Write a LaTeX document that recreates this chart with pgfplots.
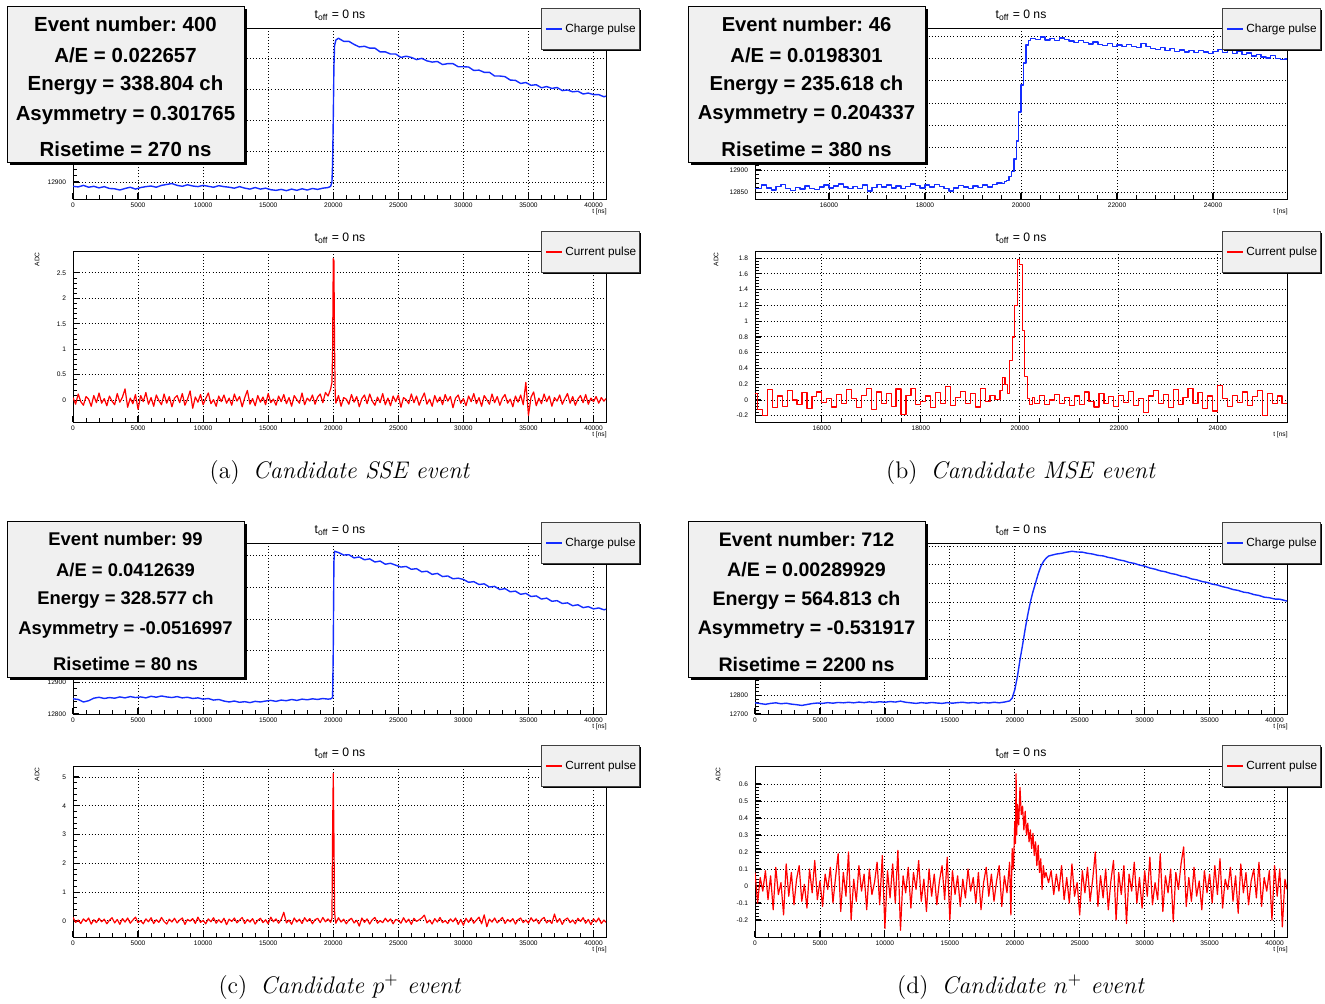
\documentclass[border=0pt]{standalone}
\usepackage{fontspec}
\usepackage{pgfplots}
\pgfplotsset{compat=1.18}
\newfontfamily\rootfont{Liberation Sans}
\definecolor{rootblue}{RGB}{20,45,255}
\definecolor{rootred}{RGB}{255,0,0}
\definecolor{panegray}{RGB}{240,240,240}
\newcommand{\tickfont}{\rootfont\fontsize{3.3}{4}\selectfont}
\frenchspacing

\pgfplotsset{
  rootframe/.style={
    scale only axis, width=266.5pt, height=85.5pt, anchor=south west,
    axis line style={black, line width=0.5pt},
    tick align=inside, xtick pos=left, ytick pos=left,
    major tick length=3pt, minor tick length=1.8pt,
    major tick style={black, line width=0.6pt},
    minor tick style={black, line width=0.45pt},
    grid=major,
    major grid style={black, line width=0.45pt, dash pattern=on 0.45pt off 1.1pt},
    scaled ticks=false,
    tick label style={font=\tickfont},
    xticklabel style={yshift=1.4pt},
    /pgf/number format/1000 sep={},
    /pgf/number format/assume math mode=true,
    minor x tick num=4, minor y tick num=4,
  },
  fullrange/.style={xmin=0, xmax=40960, xtick={0,5000,10000,15000,20000,25000,30000,35000,40000}},
  zoomrange/.style={xtick={16000,18000,20000,22000,24000}},
  charge/.style={rootblue, line width=0.7pt, line join=round},
  current/.style={rootred, line width=0.6pt, line join=round},
}

\begin{document}
\begin{tikzpicture}
\useasboundingbox (0,0) rectangle (662.5pt,-501.5pt);

% ---------------- (a) charge
\begin{axis}[rootframe, fullrange, at={(36.5pt,-99.5pt)}, ymin=12845, ymax=13397,
  ytick={12900,13000,13100,13200,13300}, yticklabels={12900,,,,}]
\addplot[charge] coordinates {
(0,12886)(400,12884)(800,12889)(1200,12883)(1600,12886)(2000,12881)(2400,12885)(2800,12879)(3200,12878)(3600,12874)
(4000,12879)(4400,12883)(4800,12877)(5200,12882)(5600,12885)(6000,12887)(6400,12883)(6800,12889)(7200,12892)(7600,12895)
(8000,12889)(8400,12886)(8800,12891)(9200,12887)(9600,12885)(10000,12889)(10400,12886)(10800,12883)(11200,12888)(11600,12885)
(12000,12883)(12400,12880)(12800,12885)(13200,12880)(13600,12877)(14000,12882)(14400,12877)(14800,12880)(15200,12875)(15600,12873)
(16000,12876)(16400,12872)(16800,12877)(17200,12873)(17600,12878)(18000,12874)(18400,12879)(18800,12876)(19200,12880)(19600,12882)
(19800,12886)(19900,12900)(19950,12960)(20000,13100)(20050,13270)(20100,13340)(20200,13358)(20400,13364)
(20800,13354)(21200,13354)(21600,13344)(22000,13336)(22400,13338)(22800,13332)(23200,13332)(23600,13320)(24000,13320)(24400,13313)
(24800,13313)(25200,13302)(25600,13306)(26000,13302)(26400,13295)(26800,13299)(27200,13291)(27600,13287)(28000,13289)(28400,13279)
(28800,13282)(29200,13282)(29600,13272)(30000,13272)(30400,13271)(30800,13260)(31200,13261)(31600,13254)(32000,13254)(32400,13242)
(32800,13242)(33200,13240)(33600,13229)(34000,13228)(34400,13218)(34800,13221)(35200,13212)(35600,13214)(36000,13204)(36400,13208)
(36800,13202)(37200,13205)(37600,13195)(38000,13197)(38400,13191)(38800,13193)(39200,13184)(39600,13187)(40000,13182)(40400,13182)
(40800,13175)(40960,13177)};
\end{axis}

% ---------------- (a) current
\begin{axis}[rootframe, fullrange, at={(36.5pt,-211pt)}, ymin=-0.43, ymax=2.93,
  ytick={0,0.5,1,1.5,2,2.5}]
\addplot[current] coordinates {
(0,0.05)(200,-0.08)(400,0.12)(600,-0.03)(800,-0.10)(1000,0.07)(1200,0.02)(1400,-0.12)(1600,0.09)(1800,-0.05)
(2000,0.14)(2200,-0.06)(2400,0.03)(2600,-0.11)(2800,0.08)(3000,-0.02)(3200,-0.09)(3400,0.13)(3600,-0.04)(3800,0.06)
(4000,0.22)(4200,-0.14)(4400,0.04)(4600,-0.07)(4800,0.11)(5000,-0.18)(5200,0.09)(5400,-0.03)(5600,0.15)(5800,-0.08)
(6000,0.05)(6200,-0.12)(6400,0.10)(6600,-0.01)(6800,-0.09)(7000,0.12)(7200,-0.06)(7400,0.07)(7600,-0.13)(7800,0.04)
(8000,0.09)(8200,-0.05)(8400,0.13)(8600,-0.10)(8800,0.02)(9000,0.18)(9200,-0.16)(9400,0.06)(9600,-0.04)(9800,0.11)
(10000,-0.09)(10200,0.03)(10400,0.14)(10600,-0.07)(10800,0.01)(11000,-0.12)(11200,0.08)(11400,-0.03)(11600,0.10)(11800,-0.06)
(12000,0.04)(12200,-0.10)(12400,0.12)(12600,-0.02)(12800,0.07)(13000,-0.13)(13200,0.05)(13400,0.19)(13600,-0.08)(13800,0.03)
(14000,-0.11)(14200,0.09)(14400,-0.04)(14600,0.06)(14800,-0.09)(15000,0.13)(15200,-0.05)(15400,0.02)(15600,-0.10)(15800,0.08)
(16000,-0.03)(16200,0.11)(16400,-0.07)(16600,0.05)(16800,-0.12)(17000,0.09)(17200,0.01)(17400,-0.06)(17600,0.14)(17800,-0.09)
(18000,0.04)(18200,-0.02)(18400,0.10)(18600,-0.08)(18800,0.06)(19000,0.12)(19200,-0.05)(19400,0.15)(19600,0.08)(19800,0.22)
(19900,0.35)(19950,0.95)(20000,2.78)(20050,2.74)(20100,1.05)(20150,0.12)
(20200,-0.06)(20400,0.09)(20600,-0.12)(20800,0.05)(21000,0.02)(21200,-0.08)(21400,0.11)(21600,-0.04)(21800,0.07)(22000,-0.13)
(22200,0.03)(22400,0.10)(22600,-0.07)(22800,0.12)(23000,-0.02)(23200,-0.10)(23400,0.06)(23600,-0.05)(23800,0.13)(24000,-0.09)
(24200,0.04)(24400,-0.11)(24600,0.08)(24800,-0.03)(25000,0.10)(25200,-0.14)(25400,0.05)(25600,0.01)(25800,-0.07)(26000,0.12)
(26200,-0.05)(26400,0.08)(26600,-0.10)(26800,0.03)(27000,0.14)(27200,-0.08)(27400,0.02)(27600,-0.12)(27800,0.09)(28000,-0.04)
(28200,0.06)(28400,-0.09)(28600,0.11)(28800,-0.02)(29000,0.07)(29200,-0.15)(29400,0.04)(29600,0.10)(29800,-0.06)(30000,0.03)
(30200,-0.11)(30400,0.08)(30600,-0.03)(30800,0.13)(31000,-0.07)(31200,0.05)(31400,-0.12)(31600,0.09)(31800,0.01)(32000,-0.08)
(32200,0.12)(32400,-0.05)(32600,0.07)(32800,-0.10)(33000,0.04)(33200,0.11)(33400,-0.06)(33600,0.02)(33800,-0.13)(34000,0.08)
(34200,-0.04)(34400,0.10)(34600,-0.09)(34800,0.35)(35000,-0.30)(35200,0.06)(35400,0.16)(35600,-0.11)(35800,0.04)(36000,-0.07)
(36200,0.12)(36400,-0.03)(36600,0.08)(36800,-0.12)(37000,0.05)(37200,-0.02)(37400,0.10)(37600,-0.08)(37800,0.03)(38000,0.13)
(38200,-0.06)(38400,0.07)(38600,-0.10)(38800,0.02)(39000,0.09)(39200,-0.05)(39400,0.11)(39600,-0.08)(39800,0.04)(40000,-0.03)
(40200,0.07)(40400,-0.06)(40600,0.05)(40800,-0.02)(40960,0.03)};
\end{axis}

% ---------------- (b) charge
\begin{axis}[rootframe, zoomrange, width=266pt, at={(377.5pt,-99.5pt)}, xmin=14460, xmax=25540,
  ymin=12835, ymax=13218, ytick={12850,12900,12950,13000,13050,13100,13150,13200},
  yticklabels={12850,12900,,,,,,}]
\addplot[charge, const plot] coordinates {
(14460,12858)(14600,12866)(14700,12860)(14800,12855)(14900,12863)(15000,12868)(15100,12859)(15200,12854)(15300,12861)(15400,12857)
(15500,12864)(15600,12859)(15700,12856)(15800,12862)(15900,12866)(16000,12860)(16100,12864)(16200,12869)(16300,12862)(16400,12858)
(16500,12863)(16600,12859)(16700,12866)(16800,12853)(16900,12861)(17000,12867)(17100,12862)(17200,12866)(17300,12860)(17400,12864)
(17500,12858)(17600,12863)(17700,12869)(17800,12865)(17900,12860)(18000,12866)(18100,12862)(18200,12868)(18300,12863)(18400,12858)
(18500,12853)(18600,12860)(18700,12865)(18800,12862)(18900,12858)(19000,12864)(19100,12861)(19200,12866)(19300,12862)(19400,12868)
(19500,12871)(19600,12870)(19650,12874)(19700,12876)(19750,12885)(19800,12896)(19850,12925)(19900,12965)(19950,13030)(20000,13090)
(20050,13140)(20100,13180)(20150,13190)(20200,13195)(20300,13192)(20400,13198)(20500,13191)(20600,13194)(20700,13190)(20800,13196)
(20900,13192)(21000,13189)(21100,13186)(21200,13190)(21300,13185)(21400,13182)(21500,13187)(21600,13181)(21700,13179)(21800,13183)
(21900,13177)(22000,13180)(22100,13176)(22200,13181)(22300,13177)(22400,13174)(22500,13183)(22600,13176)(22700,13172)(22800,13170)
(22900,13175)(23000,13168)(23100,13172)(23200,13165)(23300,13169)(23400,13164)(23500,13167)(23600,13163)(23700,13168)(23800,13164)
(23900,13161)(24000,13166)(24100,13170)(24200,13163)(24300,13167)(24400,13161)(24500,13165)(24600,13159)(24700,13162)(24800,13155)
(24900,13159)(25000,13153)(25100,13151)(25200,13156)(25300,13150)(25400,13147)(25500,13149)(25540,13149)};
\end{axis}

% ---------------- (b) current
\begin{axis}[rootframe, zoomrange, width=266pt, at={(377.5pt,-211pt)}, xmin=14650, xmax=25400,
  ymin=-0.28, ymax=1.89, ytick={-0.2,0,0.2,0.4,0.6,0.8,1,1.2,1.4,1.6,1.8}]
\addplot[current, const plot] coordinates {
(14650,0.08)(14700,-0.12)(14800,-0.20)(14900,0.13)(15000,-0.10)(15100,0.05)(15200,-0.08)(15300,0.12)(15400,0.00)(15500,-0.06)
(15600,0.09)(15700,-0.11)(15800,0.04)(15900,0.10)(16000,-0.03)(16100,0.02)(16200,-0.09)(16300,0.07)(16400,-0.05)(16500,0.13)
(16600,0.02)(16700,-0.10)(16800,0.06)(16900,0.15)(17000,-0.12)(17100,0.10)(17200,-0.04)(17300,0.08)(17400,-0.08)(17500,0.14)
(17600,-0.18)(17700,0.06)(17800,0.15)(17900,-0.06)(18000,-0.02)(18100,0.05)(18200,-0.10)(18300,0.09)(18400,-0.04)(18500,0.17)
(18600,-0.07)(18700,0.03)(18800,0.11)(18900,-0.05)(19000,0.08)(19100,-0.09)(19200,0.15)(19300,-0.02)(19400,0.06)(19500,0.01)
(19600,0.12)(19650,0.28)(19700,0.20)(19750,0.08)(19800,0.50)(19850,0.80)(19900,1.20)(19950,1.78)(20000,1.72)(20050,0.88)
(20100,0.30)(20150,0.02)(20200,-0.06)(20250,0.03)(20300,-0.05)(20400,0.06)(20500,-0.06)(20600,0.00)(20700,0.07)(20800,-0.04)
(20900,0.03)(21000,-0.07)(21100,0.05)(21200,-0.06)(21300,0.10)(21400,-0.02)(21500,-0.09)(21600,0.08)(21700,-0.05)(21800,0.04)
(21900,-0.08)(22000,0.06)(22100,-0.03)(22200,0.11)(22300,-0.07)(22400,0.02)(22500,-0.16)(22600,0.05)(22700,0.12)(22800,-0.04)
(22900,0.07)(23000,-0.10)(23100,0.13)(23200,-0.06)(23300,0.03)(23400,0.15)(23500,-0.05)(23600,0.09)(23700,-0.11)(23800,0.05)
(23900,-0.14)(24000,0.18)(24100,0.02)(24200,-0.08)(24300,0.06)(24400,-0.03)(24500,0.10)(24600,-0.07)(24700,0.04)(24800,0.12)
(24900,-0.20)(25000,0.08)(25100,-0.04)(25200,0.05)(25300,-0.05)(25400,-0.05)};
\end{axis}

% ---------------- (c) charge
\begin{axis}[rootframe, fullrange, at={(36.5pt,-357pt)}, ymin=12800, ymax=13340,
  ytick={12800,12900,13000,13100,13200,13300}, yticklabels={12800,12900,,,,}]
\addplot[charge] coordinates {
(0,12848)(400,12846)(800,12838)(1200,12842)(1600,12850)(2000,12853)(2400,12849)(2800,12852)(3200,12850)(3600,12854)
(4000,12851)(4400,12855)(4800,12852)(5200,12854)(5600,12851)(6000,12856)(6400,12853)(6800,12857)(7200,12854)(7600,12852)
(8000,12855)(8400,12851)(8800,12853)(9200,12849)(9600,12851)(10000,12847)(10400,12849)(10800,12844)(11200,12846)(11600,12841)
(12000,12838)(12400,12841)(12800,12837)(13200,12839)(13600,12836)(14000,12840)(14400,12838)(14800,12841)(15200,12843)(15600,12840)
(16000,12844)(16400,12842)(16800,12846)(17200,12843)(17600,12847)(18000,12845)(18400,12848)(18800,12846)(19200,12849)(19600,12847)
(19800,12848)(19950,12852)(20000,13000)(20050,13280)(20100,13314)(20400,13310)(20800,13302)(21200,13303)(21600,13293)(22000,13296)
(22400,13287)(22800,13290)(23200,13280)(23600,13283)(24000,13273)(24400,13276)(24800,13270)(25200,13264)(25600,13266)(26000,13257)
(26400,13259)(26800,13249)(27200,13251)(27600,13241)(28000,13244)(28400,13234)(28800,13236)(29200,13227)(29600,13229)(30000,13225)
(30400,13216)(30800,13218)(31200,13209)(31600,13211)(32000,13201)(32400,13203)(32800,13193)(33200,13196)(33600,13186)(34000,13188)
(34400,13178)(34800,13181)(35200,13171)(35600,13173)(36000,13163)(36400,13166)(36800,13156)(37200,13158)(37600,13149)(38000,13151)
(38400,13142)(38800,13145)(39200,13136)(39600,13139)(40000,13132)(40400,13135)(40800,13129)(40960,13131)};
\end{axis}

% ---------------- (c) current
\begin{axis}[rootframe, fullrange, at={(36.5pt,-468.5pt)}, ymin=-0.56, ymax=5.38,
  ytick={0,1,2,3,4,5}]
\addplot[current] coordinates {
(0,0.12)(200,-0.05)(400,0.03)(600,-0.09)(800,0.07)(1000,-0.02)(1200,0.10)(1400,-0.11)(1600,0.04)(1800,-0.06)
(2000,0.09)(2200,-0.03)(2400,0.06)(2600,-0.10)(2800,0.02)(3000,0.11)(3200,-0.07)(3400,0.05)(3600,-0.12)(3800,0.08)
(4000,-0.04)(4200,0.10)(4400,-0.08)(4600,0.03)(4800,0.13)(5000,-0.06)(5200,0.01)(5400,-0.10)(5600,0.07)(5800,-0.03)
(6000,0.11)(6200,-0.09)(6400,0.04)(6600,-0.05)(6800,0.12)(7000,-0.02)(7200,-0.11)(7400,0.06)(7600,-0.04)(7800,0.09)
(8000,-0.07)(8200,0.03)(8400,0.10)(8600,-0.12)(8800,0.05)(9000,-0.01)(9200,0.08)(9400,-0.09)(9600,0.13)(9800,-0.05)
(10000,0.02)(10200,-0.10)(10400,0.07)(10600,-0.03)(10800,0.11)(11000,-0.08)(11200,0.04)(11400,-0.06)(11600,0.09)(11800,-0.13)
(12000,0.06)(12200,-0.02)(12400,0.10)(12600,-0.07)(12800,0.03)(13000,0.12)(13200,-0.09)(13400,0.05)(13600,-0.04)(13800,0.08)
(14000,-0.11)(14200,0.02)(14400,0.09)(14600,-0.06)(14800,0.04)(15000,-0.10)(15200,0.13)(15400,-0.03)(15600,0.07)(15800,-0.08)
(16000,0.05)(16200,0.30)(16400,-0.07)(16600,0.03)(16800,-0.12)(17000,0.10)(17200,-0.04)(17400,0.06)(17600,-0.09)(17800,0.11)
(18000,-0.02)(18200,0.08)(18400,-0.10)(18600,0.04)(18800,0.09)(19000,-0.06)(19200,0.12)(19400,-0.03)(19600,0.07)(19800,-0.05)
(19900,0.10)(19950,3.10)(20000,5.12)(20050,3.00)(20100,0.35)(20150,0.05)
(20200,-0.08)(20400,0.11)(20600,-0.04)(20800,0.06)(21000,-0.10)(21200,0.03)(21400,0.09)(21600,-0.07)(21800,0.02)(22000,-0.18)
(22200,0.10)(22400,-0.05)(22600,0.07)(22800,-0.11)(23000,0.04)(23200,0.12)(23400,-0.08)(23600,0.01)(23800,-0.06)(24000,0.09)
(24200,-0.03)(24400,0.07)(24600,-0.10)(24800,0.05)(25000,0.02)(25200,-0.08)(25400,0.11)(25600,-0.05)(25800,0.06)(26000,-0.12)
(26200,0.09)(26400,-0.02)(26600,0.04)(26800,0.10)(27000,0.20)(27200,-0.07)(27400,0.03)(27600,-0.11)(27800,0.08)(28000,-0.04)
(28200,0.12)(28400,-0.06)(28600,0.01)(28800,-0.09)(29000,0.07)(29200,-0.03)(29400,0.10)(29600,-0.12)(29800,0.05)(30000,-0.15)
(30200,0.09)(30400,-0.05)(30600,0.11)(30800,-0.08)(31000,0.03)(31200,0.13)(31400,-0.10)(31600,0.21)(31800,-0.20)(32000,0.06)
(32200,-0.04)(32400,0.10)(32600,-0.07)(32800,0.02)(33000,0.12)(33200,-0.09)(33400,0.05)(33600,-0.03)(33800,0.08)(34000,-0.11)
(34200,0.04)(34400,0.10)(34600,-0.06)(34800,0.03)(35000,-0.08)(35200,0.11)(35400,-0.02)(35600,0.07)(35800,-0.10)(36000,0.05)
(36200,0.12)(36400,-0.07)(36600,0.02)(36800,-0.09)(37000,0.24)(37200,-0.05)(37400,0.08)(37600,-0.12)(37800,0.04)(38000,0.10)
(38200,-0.06)(38400,0.03)(38600,-0.10)(38800,0.09)(39000,-0.02)(39200,0.11)(39400,-0.08)(39600,0.05)(39800,-0.13)(40000,0.07)
(40200,-0.04)(40400,0.10)(40600,-0.09)(40800,0.03)(40960,-0.05)};
\end{axis}

% ---------------- (d) charge
\begin{axis}[rootframe, fullrange, width=266pt, at={(377.5pt,-357pt)}, ymin=12700, ymax=13616,
  ytick={12700,12800,12900,13000,13100,13200,13300,13400,13500,13600},
  yticklabels={12700,12800,,,,,,,,}]
\addplot[charge] coordinates {
(0,12760)(400,12756)(800,12752)(1200,12757)(1600,12760)(2000,12755)(2400,12758)(2800,12753)(3200,12750)(3600,12746)
(4000,12751)(4400,12756)(4800,12759)(5200,12757)(5600,12761)(6000,12758)(6400,12762)(6800,12760)(7200,12763)(7600,12760)
(8000,12764)(8400,12761)(8800,12765)(9200,12762)(9600,12766)(10000,12763)(10400,12767)(10800,12764)(11200,12769)(11600,12763)
(12000,12760)(12400,12757)(12800,12761)(13200,12758)(13600,12762)(14000,12759)(14400,12757)(14800,12761)(15200,12758)(15600,12761)
(16000,12763)(16400,12759)(16800,12762)(17200,12758)(17600,12762)(18000,12759)(18400,12763)(18800,12760)(19200,12764)(19600,12770)
(19800,12785)(20000,12830)(20200,12900)(20400,12990)(20600,13070)(20800,13155)(21000,13232)(21200,13300)(21400,13355)(21600,13402)
(21800,13450)(22000,13490)(22200,13516)(22400,13534)(22600,13546)(22800,13550)(23200,13557)(23600,13561)(24000,13567)(24400,13572)
(24800,13568)(25200,13567)(25600,13561)(26000,13557)(26400,13550)(26800,13547)(27200,13539)(27600,13534)(28000,13526)(28400,13521)
(28800,13512)(29200,13507)(29600,13498)(30000,13492)(30400,13482)(30800,13476)(31200,13467)(31600,13462)(32000,13453)(32400,13448)
(32800,13439)(33200,13434)(33600,13424)(34000,13419)(34400,13410)(34800,13405)(35200,13396)(35600,13391)(36000,13382)(36400,13376)
(36800,13367)(37200,13362)(37600,13353)(38000,13349)(38400,13340)(38800,13335)(39200,13326)(39600,13323)(40000,13316)(40400,13315)
(40800,13308)(40960,13305)};
\end{axis}

% ---------------- (d) current
\begin{axis}[rootframe, fullrange, width=266pt, at={(377.5pt,-468.5pt)}, ymin=-0.3, ymax=0.706,
  ytick={-0.2,-0.1,0,0.1,0.2,0.3,0.4,0.5,0.6}]
\addplot[current] coordinates {
(0,0.08)(200,-0.10)(400,0.05)(600,-0.03)(800,0.09)(1000,-0.08)(1200,0.06)(1400,-0.14)(1600,0.11)(1800,-0.05)
(2000,0.02)(2200,-0.17)(2400,0.13)(2600,-0.06)(2800,0.08)(3000,-0.11)(3200,0.04)(3400,0.12)(3600,-0.09)(3800,0.01)
(4000,-0.13)(4200,0.10)(4400,-0.04)(4600,0.15)(4800,-0.08)(5000,0.03)(5200,-0.12)(5400,0.07)(5600,-0.02)(5800,0.11)
(6000,-0.10)(6200,0.05)(6400,0.19)(6600,-0.15)(6800,0.08)(7000,-0.06)(7200,0.20)(7400,-0.20)(7600,0.04)(7800,-0.09)
(8000,0.12)(8200,-0.03)(8400,0.07)(8600,-0.14)(8800,0.10)(9000,-0.05)(9200,0.02)(9400,0.14)(9600,-0.11)(9800,0.18)
(10000,-0.25)(10200,0.09)(10400,-0.07)(10600,0.13)(10800,-0.10)(11000,0.21)(11200,-0.26)(11400,0.06)(11600,-0.04)(11800,0.11)
(12000,-0.13)(12200,0.08)(12400,-0.02)(12600,0.15)(12800,-0.09)(13000,0.04)(13200,-0.15)(13400,0.10)(13600,-0.06)(13800,0.07)
(14000,-0.11)(14200,0.03)(14400,0.12)(14600,-0.08)(14800,0.17)(15000,-0.20)(15200,0.09)(15400,-0.05)(15600,0.06)(15800,-0.12)
(16000,0.04)(16200,-0.07)(16400,0.10)(16600,-0.03)(16800,0.05)(17000,-0.10)(17200,0.08)(17400,-0.14)(17600,0.02)(17800,0.11)
(18000,-0.06)(18200,0.07)(18400,-0.09)(18600,0.03)(18800,0.12)(19000,-0.12)(19200,0.06)(19400,-0.04)(19600,0.14)(19700,-0.17)
(19800,0.22)(19900,0.10)(20000,0.38)(20050,0.25)(20100,0.66)(20150,0.30)(20200,0.48)(20300,0.36)(20400,0.58)(20500,0.42)
(20600,0.47)(20700,0.33)(20800,0.44)(20900,0.30)(21000,0.37)(21100,0.26)(21200,0.33)(21300,0.22)(21400,0.31)(21500,0.18)
(21600,0.26)(21700,0.12)(21800,0.24)(21900,0.08)(22000,0.16)(22100,-0.02)(22200,0.12)(22300,0.05)(22400,0.08)(22600,0.02)
(22800,0.09)(23000,-0.05)(23200,0.07)(23400,-0.03)(23600,0.12)(23800,-0.08)(24000,0.05)(24200,-0.10)(24400,0.13)(24600,-0.06)
(24800,0.02)(25000,-0.17)(25200,0.09)(25400,-0.04)(25600,0.11)(25800,-0.09)(26000,0.04)(26200,0.20)(26400,-0.12)(26600,0.06)
(26800,-0.07)(27000,0.10)(27200,-0.14)(27400,0.03)(27600,0.15)(27800,-0.20)(28000,0.08)(28200,-0.05)(28400,0.12)(28600,-0.22)
(28800,0.07)(29000,-0.03)(29200,0.14)(29400,-0.10)(29600,0.05)(29800,-0.13)(30000,0.09)(30200,-0.06)(30400,0.17)(30600,-0.11)
(30800,0.02)(31000,-0.08)(31200,0.19)(31400,-0.15)(31600,0.06)(31800,-0.04)(32000,0.10)(32200,-0.21)(32400,0.08)(32600,-0.02)
(32800,0.13)(33000,0.23)(33200,-0.12)(33400,0.05)(33600,-0.09)(33800,0.11)(34000,-0.06)(34200,0.03)(34400,-0.14)(34600,0.09)
(34800,-0.04)(35000,0.07)(35200,-0.10)(35400,0.12)(35600,-0.05)(35800,0.16)(36000,-0.13)(36200,0.04)(36400,-0.02)(36600,0.11)
(36800,-0.09)(37000,0.06)(37200,-0.16)(37400,0.13)(37600,-0.04)(37800,0.08)(38000,-0.11)(38200,0.03)(38400,0.10)(38600,-0.07)
(38800,0.14)(39000,-0.12)(39200,0.05)(39400,-0.03)(39600,0.09)(39800,-0.20)(40000,0.12)(40200,-0.06)(40400,0.10)(40600,-0.24)
(40800,0.04)(40960,-0.02)};
\end{axis}

% ---------------- overlays, placed in image pixels
\begin{scope}[x=0.5pt, y=-0.5pt]
  % #1,#2 top-left corner, #3 font size, #4-#8 the five lines
  \newcommand{\InfoBox}[8]{%
    \fill[black] (#1+3,#2+3) rectangle (#1+240,#2+159);
    \filldraw[fill=panegray, draw=black, line width=0.4pt] (#1,#2) rectangle (#1+237,#2+156);
    \foreach \dy/\txt in {18/{#4}, 49/{#5}, 79/{#6}, 109/{#7}, 143/{#8}}
      \node[font=\rootfont\bfseries\fontsize{#3}{12}\selectfont] at (#1+118.5,#2+\dy) {\txt};
  }
  \newcommand{\LegBox}[4]{%
    \fill[black] (#1+2,#2+2) rectangle (#1+100,#2+43);
    \filldraw[fill=panegray, draw=black!75, line width=0.4pt] (#1,#2) rectangle (#1+98,#2+41);
    \draw[#3, line width=0.6pt] (#1+5,#2+21) -- (#1+21,#2+21);
    \node[anchor=west, inner sep=0pt, font=\rootfont\fontsize{5.9}{7}\selectfont] at (#1+24,#2+21) {#4};
  }
  \newcommand{\Title}[2]{%
    \node[font=\rootfont\fontsize{6.1}{7}\selectfont] at (#1,#2) {t\textsubscript{off} = 0 ns};
  }
  \newcommand{\TLab}[2]{%
    \node[anchor=east, inner sep=0pt, font=\tickfont] at (#1,#2) {t [ns]};
  }
  \newcommand{\ADC}[2]{%
    \node[rotate=90, anchor=east, inner sep=0pt, font=\tickfont] at (#1,#2) {ADC};
  }

  % titles
  \Title{340}{15} \Title{340}{238} \Title{1021}{15} \Title{1021}{238}
  \Title{340}{530} \Title{340}{753} \Title{1021}{530} \Title{1021}{753}
  % axis titles
  \TLab{607}{212} \TLab{607}{435} \TLab{1288}{212} \TLab{1288}{435}
  \TLab{607}{727} \TLab{607}{950} \TLab{1288}{727} \TLab{1288}{950}
  \ADC{37}{252} \ADC{716}{252} \ADC{37}{767} \ADC{718}{767}

  % legends
  \LegBox{541}{8}{rootblue}{Charge pulse}
  \LegBox{541}{231}{rootred}{Current pulse}
  \LegBox{1222}{8}{rootblue}{Charge pulse}
  \LegBox{1222}{231}{rootred}{Current pulse}
  \LegBox{541}{522}{rootblue}{Charge pulse}
  \LegBox{541}{745}{rootred}{Current pulse}
  \LegBox{1222}{522}{rootblue}{Charge pulse}
  \LegBox{1222}{745}{rootred}{Current pulse}

  % event information panes
  \InfoBox{7}{6}{10.2}{Event number: 400}{A/E = 0.022657}{Energy = 338.804 ch}{Asymmetry = 0.301765}{Risetime = 270 ns}
  \InfoBox{688}{6}{10.1}{Event number: 46}{A/E = 0.0198301}{Energy = 235.618 ch}{Asymmetry = 0.204337}{Risetime = 380 ns}
  \InfoBox{7}{521}{9.2}{Event number: 99}{A/E = 0.0412639}{Energy = 328.577 ch}{Asymmetry = -0.0516997}{Risetime = 80 ns}
  \InfoBox{688}{521}{9.8}{Event number: 712}{A/E = 0.00289929}{Energy = 564.813 ch}{Asymmetry = -0.531917}{Risetime = 2200 ns}

  % sub-captions
  \node[font=\fontsize{12}{14}\selectfont] at (340,472) {(a)\hspace{0.55em}\textit{Candidate SSE event}};
  \node[font=\fontsize{12}{14}\selectfont] at (1021,472) {(b)\hspace{0.55em}\textit{Candidate MSE event}};
  \node[font=\fontsize{12}{14}\selectfont] at (340,987) {(c)\hspace{0.55em}\textit{Candidate $p^{+}$ event}};
  \node[font=\fontsize{12}{14}\selectfont] at (1021,987) {(d)\hspace{0.55em}\textit{Candidate $n^{+}$ event}};
\end{scope}
\end{tikzpicture}
\end{document}
